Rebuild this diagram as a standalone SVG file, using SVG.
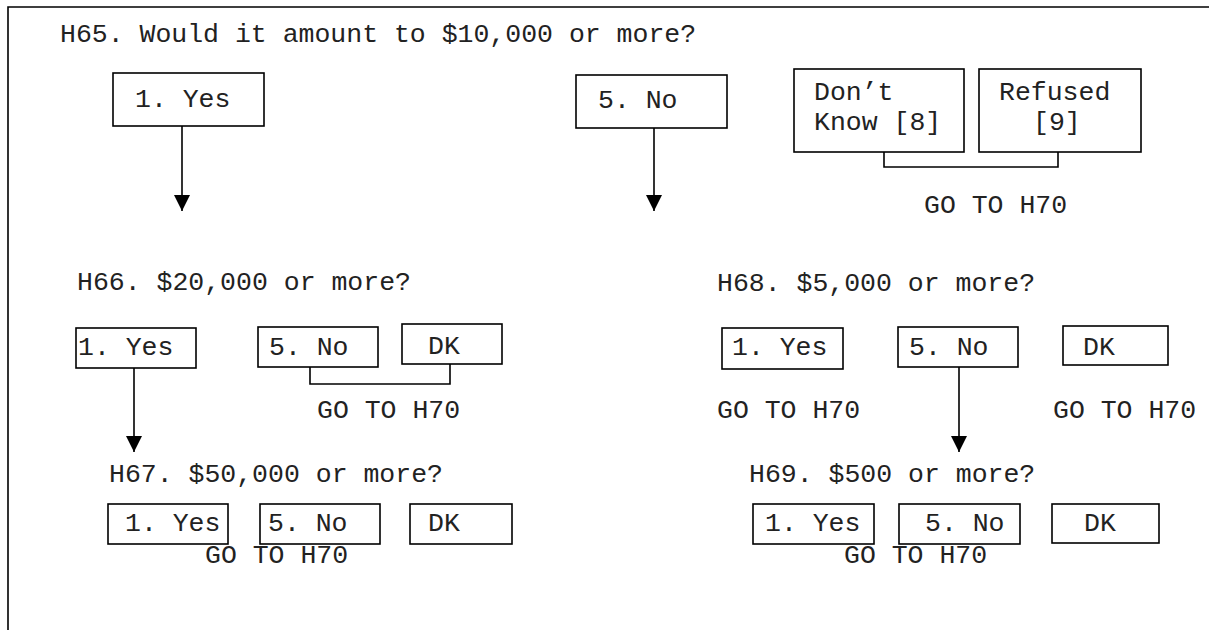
<svg xmlns="http://www.w3.org/2000/svg" width="1209" height="630" viewBox="0 0 1209 630">
  <style>
    text { font-family: "Liberation Mono", "Courier New", monospace; font-size: 26.5px; fill: #222; }
    .box { fill: #fff; stroke: #000; stroke-width: 1.6; }
    .conn { fill: none; stroke: #000; stroke-width: 1.6; }
    .frame { fill: none; stroke: #000; stroke-width: 1.6; }
  </style>
  <defs>
    <marker id="arrow" markerUnits="userSpaceOnUse" markerWidth="16" markerHeight="16" refX="16" refY="8" orient="auto">
      <path d="M0,0 L16,8 L0,16 Z" fill="#000"/>
    </marker>
  </defs>
  <rect width="1209" height="630" fill="#fff"/>
  <path class="frame" d="M8,630 L8,7 L1209,7"/>

  <g id="q-h65"><text x="60" y="42">H65. Would it amount to $10,000 or more?</text></g>
  <g id="h65-yes"><rect class="box" x="113" y="73" width="151" height="53"/><text x="135" y="107">1. Yes</text></g>
  <g id="h65-no"><rect class="box" x="576" y="75" width="151" height="53"/><text x="598" y="108">5. No</text></g>
  <g id="h65-dk"><rect class="box" x="794" y="69" width="170" height="83"/><text x="814" y="100">Don’t</text><text x="814" y="130">Know [8]</text></g>
  <g id="h65-ref"><rect class="box" x="979" y="69" width="162" height="83"/><text x="999" y="100">Refused</text><text x="1033" y="130">[9]</text></g>
  <g id="h65-goto"><text x="924" y="213">GO TO H70</text></g>

  <g id="q-h66"><text x="77" y="290">H66. $20,000 or more?</text></g>
  <g id="h66-yes"><rect class="box" x="76" y="328" width="120" height="40"/><text x="78" y="355">1. Yes</text></g>
  <g id="h66-no"><rect class="box" x="258" y="327" width="120" height="40"/><text x="269" y="355">5. No</text></g>
  <g id="h66-dk"><rect class="box" x="402" y="324" width="100" height="40"/><text x="428" y="354">DK</text></g>
  <g id="h66-goto"><text x="317" y="418">GO TO H70</text></g>

  <g id="q-h68"><text x="717" y="291">H68. $5,000 or more?</text></g>
  <g id="h68-yes"><rect class="box" x="722" y="328" width="121" height="41"/><text x="732" y="355">1. Yes</text></g>
  <g id="h68-no"><rect class="box" x="898" y="327" width="120" height="40"/><text x="909" y="355">5. No</text></g>
  <g id="h68-dk"><rect class="box" x="1063" y="326" width="105" height="39"/><text x="1083" y="355">DK</text></g>
  <g id="h68-goto-yes"><text x="717" y="418">GO TO H70</text></g>
  <g id="h68-goto-dk"><text x="1053" y="418">GO TO H70</text></g>

  <g id="q-h67"><text x="109" y="482">H67. $50,000 or more?</text></g>
  <g id="h67-yes"><rect class="box" x="108" y="504" width="120" height="40"/><text x="125" y="531">1. Yes</text></g>
  <g id="h67-no"><rect class="box" x="260" y="504" width="120" height="40"/><text x="268" y="531">5. No</text></g>
  <g id="h67-dk"><rect class="box" x="410" y="504" width="102" height="40"/><text x="428" y="531">DK</text></g>
  <g id="h67-goto"><text x="205" y="563">GO TO H70</text></g>

  <g id="q-h69"><text x="749" y="482">H69. $500 or more?</text></g>
  <g id="h69-yes"><rect class="box" x="753" y="504" width="121" height="40"/><text x="765" y="531">1. Yes</text></g>
  <g id="h69-no"><rect class="box" x="899" y="504" width="121" height="40"/><text x="925" y="531">5. No</text></g>
  <g id="h69-dk"><rect class="box" x="1052" y="504" width="107" height="39"/><text x="1084" y="531">DK</text></g>
  <g id="h69-goto"><text x="844" y="563">GO TO H70</text></g>

  <g id="connectors">
    <line class="conn" x1="182" y1="126" x2="182" y2="211" marker-end="url(#arrow)"/>
    <line class="conn" x1="654" y1="128" x2="654" y2="211" marker-end="url(#arrow)"/>
    <line class="conn" x1="134" y1="368" x2="134" y2="452" marker-end="url(#arrow)"/>
    <line class="conn" x1="959" y1="367" x2="959" y2="452" marker-end="url(#arrow)"/>
    <path class="conn" d="M884,152 L884,167 L1058,167 L1058,152"/>
    <path class="conn" d="M310,367 L310,384 L450,384 L450,364"/>
  </g>
</svg>
